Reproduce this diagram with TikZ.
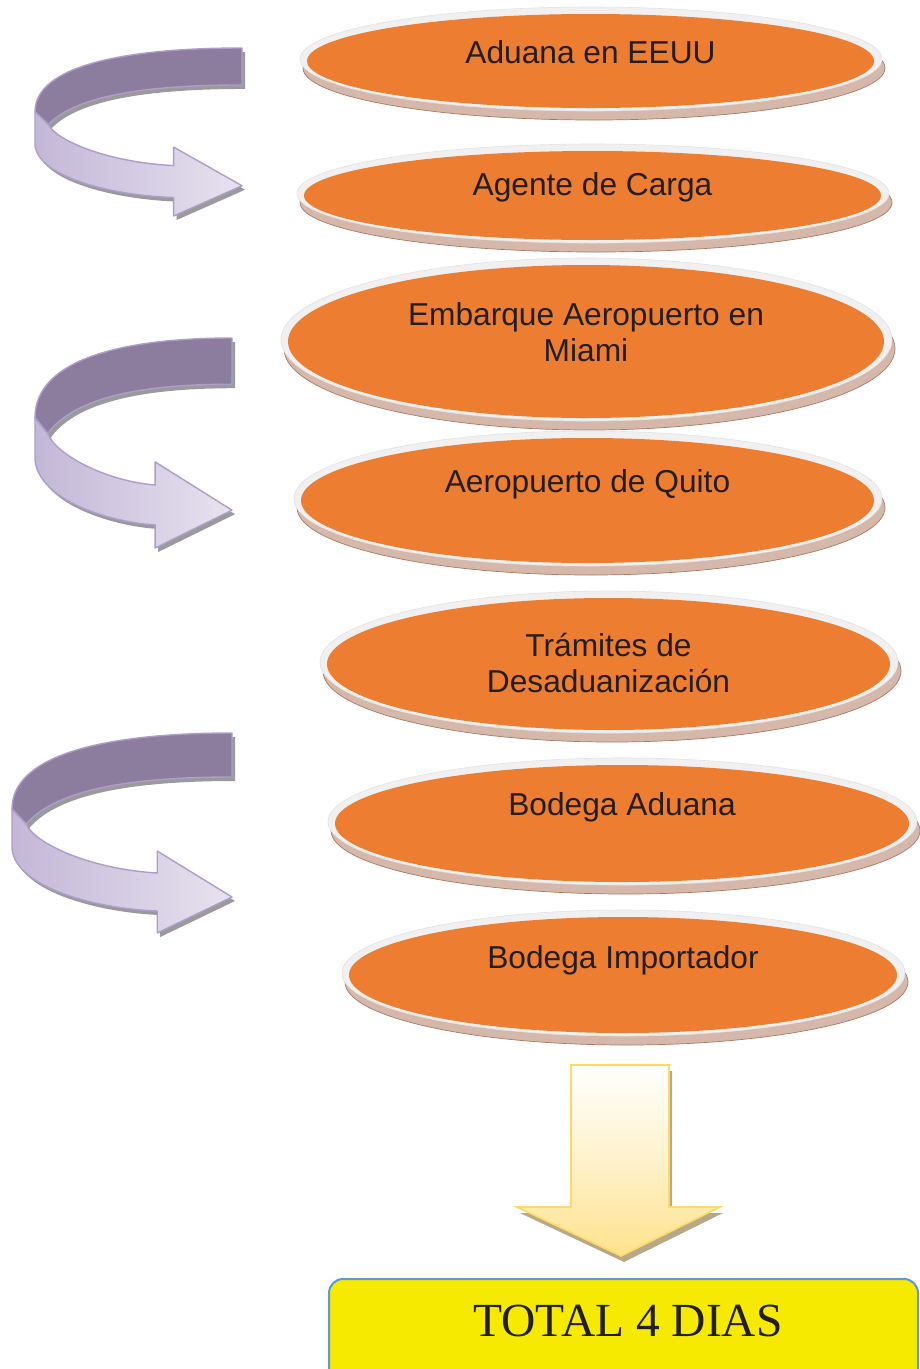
\documentclass[tikz,border=0pt]{standalone}
\usepackage{fontspec}
\newfontfamily\arialf{Liberation Sans}
\newfontfamily\timesf{Liberation Serif}
\usetikzlibrary{shapes.geometric}
\definecolor{orng}{HTML}{ED7D31}
\definecolor{ring}{HTML}{F0F0F0}
\definecolor{ringline}{HTML}{E2E2E2}
\definecolor{eshadow}{HTML}{D6B8AA}
\definecolor{eshadowline}{HTML}{A87A66}
\definecolor{pdark}{HTML}{8C7D9F}
\definecolor{plightA}{HTML}{C3B7D7}
\definecolor{plightB}{HTML}{E7E2EF}
\definecolor{pline}{HTML}{AE9DCB}
\definecolor{rshadow}{HTML}{9A9A9A}
\definecolor{yarrowB}{HTML}{FFE28C}
\definecolor{yline}{HTML}{FFD966}
\definecolor{yshadow}{HTML}{B8A88A}
\definecolor{ybox}{HTML}{F5EA00}
\definecolor{bline}{HTML}{5B9BD5}
\definecolor{txt}{HTML}{231F20}
\tikzset{
  ringell/.style={ellipse, fill=ring, draw=ringline, line width=0.6pt, inner sep=0pt},
  shadell/.style={ellipse, fill=eshadow, draw=eshadowline, line width=0.7pt, inner sep=0pt},
  orell/.style={ellipse, fill=orng, inner sep=0pt},
  lbl/.style={font=\arialf\fontsize{31.7}{36}\selectfont, text=txt, align=center, inner sep=0pt},
  totlbl/.style={font=\timesf\fontsize{47.5}{52}\selectfont, text=txt, inner sep=0pt},
}
% ribbon arrow in unit box, y downward; \hx = head base fraction
\def\ribdark{(1,0) .. controls (0.45,0) and (0,0.1) .. (0,0.38) -- (0.065,0.455) .. controls (0.2,0.28) and (0.55,0.22) .. (1,0.22) -- cycle}
\def\riblight{(0,0.38) -- (0,0.58) .. controls (0.02,0.78) and (0.4,0.88) .. (\hx,0.89) -- (\hx,1) -- (1,0.82) -- (\hx,0.59) -- (\hx,0.70) .. controls (0.35,0.68) and (0.1,0.55) .. (0.065,0.455) -- cycle}
\newcommand\ribbonarrow[5]{%
  \def\hx{#5}%
  \begin{scope}[shift={(#1+3,#2+4)},xscale=#3,yscale=#4]
    \fill[rshadow] \ribdark;
    \fill[rshadow] \riblight;
  \end{scope}
  \begin{scope}[shift={(#1,#2)},xscale=#3,yscale=#4]
    \fill[pdark] \ribdark;
    \shade[left color=plightA, right color=plightB] \riblight;
    \draw[pline, line width=1.4pt, line join=round] \ribdark;
    \draw[pline, line width=1.4pt, line join=round] \riblight;
  \end{scope}}
% flow ellipse: name, x1, x2, y1, y2 (orange box)
\newcommand\flowell[5]{%
  \path ({(#2+#3)/2+0.5+3},{(#4+#5)/2-2+9}) node[shadell, minimum width={#3-#2+15}, minimum height={#5-#4+10}] (#1s) {};
  \path ({(#2+#3)/2+0.5},{(#4+#5)/2-2}) node[ringell, minimum width={#3-#2+15}, minimum height={#5-#4+10}] (#1w) {};
  \path ({(#2+#3)/2},{(#4+#5)/2}) node[orell, minimum width={#3-#2}, minimum height={#5-#4}] (#1) {};}
\def\yarrow{(571,1065) -- (669,1065) -- (669,1207) -- (720,1207) -- (621,1256) -- (517,1207) -- (571,1207) -- cycle}
\begin{document}
\begin{tikzpicture}[x=1pt,y=-1pt]
\useasboundingbox (0,0) rectangle (920,1369);
\fill[white] (0,0) rectangle (920,1369);

% curved ribbon arrows
\ribbonarrow{35}{48}{207}{168}{0.67}
\ribbonarrow{35}{338}{197}{210}{0.61}
\ribbonarrow{12}{733}{220}{200}{0.66}

% ellipses
\flowell{e1}{307}{874}{14}{108}
\node[lbl] (t1) at (590.5,52) {Aduana en EEUU};
\flowell{e2}{304}{881}{151}{240}
\node[lbl] (t2) at (592.5,187) {Agente de Carga};
\flowell{e3}{288}{884}{265}{418}
\node[lbl] (t3) at (586,332) {Embarque Aeropuerto en\\Miami};
\flowell{e4}{301}{874}{438}{563}
\node[lbl] (t4) at (587.5,484) {Aeropuerto de Quito};
\flowell{e5}{327}{890}{598}{730}
\node[lbl] (t5) at (608.5,663) {Trámites de\\Desaduanización};
\flowell{e6}{335}{909}{765}{882}
\node[lbl] (t6) at (622,807) {Bodega Aduana};
\flowell{e7}{349}{897}{917}{1033}
\node[lbl] (t7) at (623,960) {Bodega Importador};

% big yellow arrow
\begin{scope}[shift={(3,6)}]
  \fill[yshadow] \yarrow;
\end{scope}
\shade[top color=white, bottom color=yarrowB, middle color=white!55!yarrowB] \yarrow;
\draw[yline, line width=1.6pt, line join=miter] \yarrow;

% total box
\node[draw=bline, fill=ybox, line width=2pt, rounded corners=14pt, minimum width=589pt, minimum height=118pt, inner sep=0pt] (total) at (623.5,1338) {};
\node[totlbl] (tt) at (628,1321) {TOTAL 4 DIAS};
\end{tikzpicture}
\end{document}
